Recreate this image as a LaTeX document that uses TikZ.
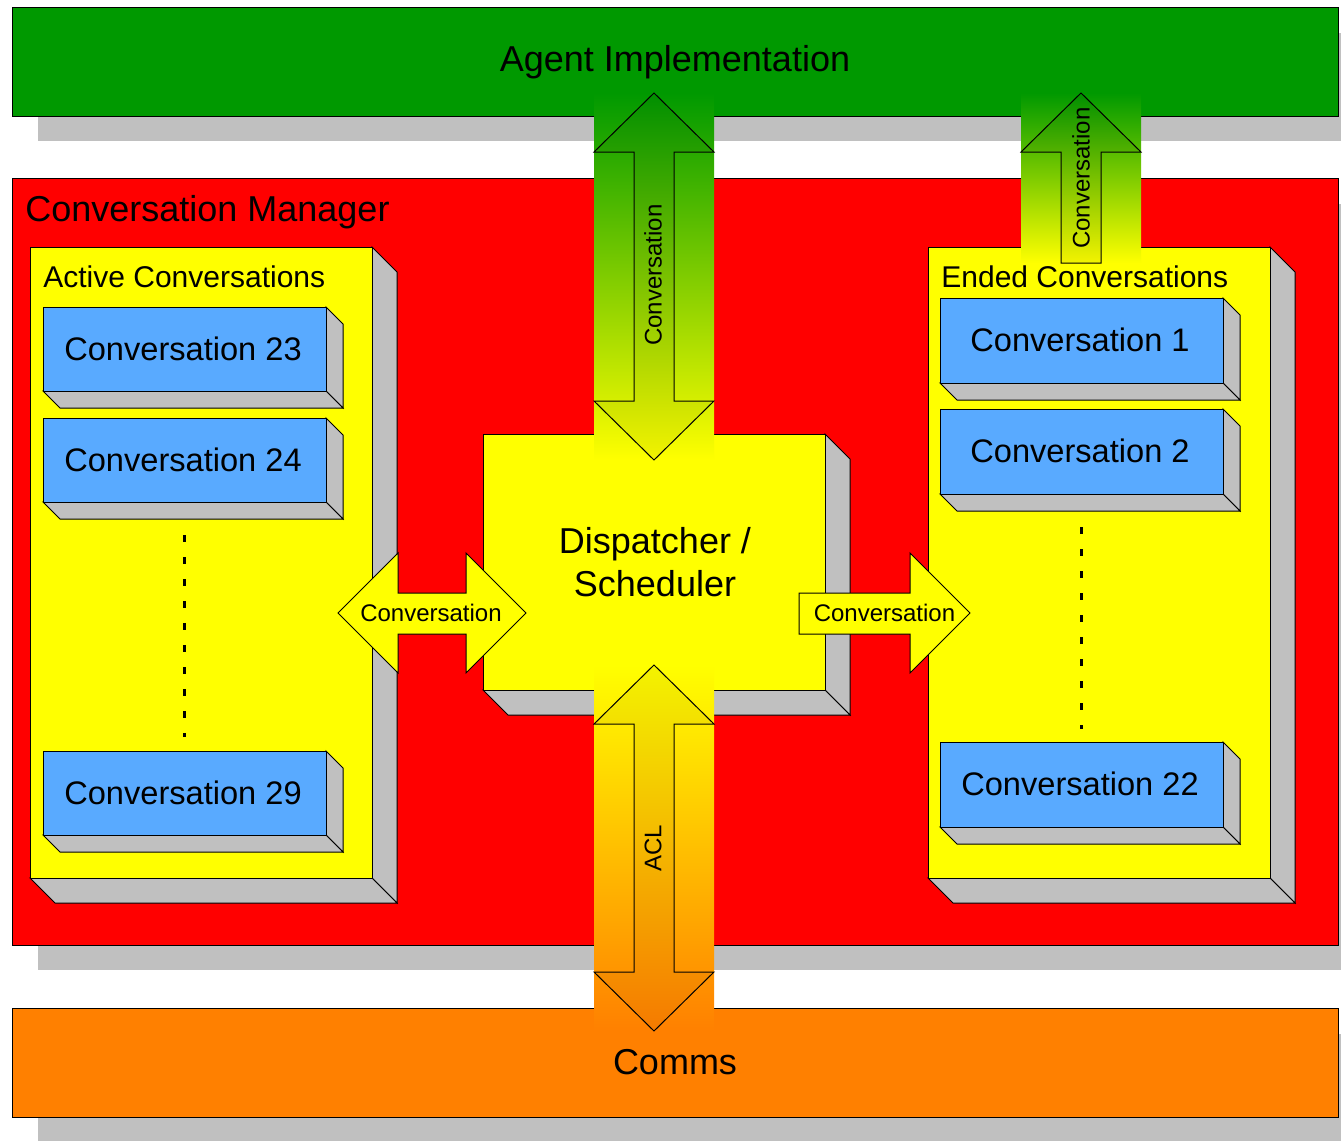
\documentclass[tikz,border=0pt]{standalone}
\usepackage{fontspec}
\setmainfont{Liberation Sans}
\definecolor{agentgreen}{RGB}{0,153,0}
\definecolor{mgrred}{RGB}{255,0,0}
\definecolor{commsorange}{RGB}{255,128,0}
\definecolor{boxyellow}{RGB}{255,255,0}
\definecolor{convblue}{RGB}{89,170,255}
\definecolor{shadowgray}{RGB}{192,192,192}
\definecolor{arrgreen}{RGB}{0,143,0}
\definecolor{arryellow}{RGB}{243,243,0}
\definecolor{arrorange}{RGB}{245,122,0}
\newcommand\tdbox[6]{%
  \filldraw[fill=shadowgray,draw=black,line width=0.5pt] (#3,#2) -- (#3+#5,#2+#5) -- (#3+#5,#4+#5) -- (#3,#4) -- cycle;
  \filldraw[fill=shadowgray,draw=black,line width=0.5pt] (#1,#4) -- (#1+#5,#4+#5) -- (#3+#5,#4+#5) -- (#3,#4) -- cycle;
  \filldraw[fill=#6,draw=black,line width=0.5pt] (#1,#2) rectangle (#3,#4);}
\tikzset{
  bigtext/.style={font=\fontsize{18}{21.5}\selectfont, inner sep=0pt},
  labeltext/.style={font=\fontsize{15}{18}\selectfont, inner sep=0pt, anchor=west},
  convtext/.style={font=\fontsize{16.3}{19}\selectfont, inner sep=0pt},
  arrtext/.style={font=\fontsize{12}{14}\selectfont, inner sep=0pt},
  outline/.style={draw=black, line width=0.5pt},
  dots/.style={line width=1.5pt, dash pattern=on 3.5pt off 7.5pt},
}
\begin{document}
\begin{tikzpicture}[x=0.5pt,y=-0.5pt]
\useasboundingbox (0,0) rectangle (1341,1141);
\fill[white] (0,0) rectangle (1341,1141);
% top bar
\fill[shadowgray] (38,33) rectangle (1341,141);
\filldraw[fill=agentgreen,outline] (12,7) rectangle (1338,116);
% manager
\fill[shadowgray] (38,204) rectangle (1341,970);
\filldraw[fill=mgrred,outline] (12,178) rectangle (1338,945);
% comms
\fill[shadowgray] (38,1034) rectangle (1341,1141);
\filldraw[fill=commsorange,outline] (12,1008) rectangle (1338,1117);
% active / ended containers
\tdbox{30}{247}{372}{878}{25}{boxyellow}
\tdbox{928}{247}{1270}{878}{25}{boxyellow}
% conversation boxes
\tdbox{43}{307}{326}{391}{17}{convblue}
\tdbox{43}{418}{326}{502}{17}{convblue}
\tdbox{43}{751}{326}{835}{17}{convblue}
\tdbox{940}{298}{1223}{383}{17}{convblue}
\tdbox{940}{409}{1223}{494}{17}{convblue}
\tdbox{940}{742}{1223}{827}{17}{convblue}
\node[convtext] (c23) at (183,349) {Conversation 23};
\node[convtext] (c24) at (183,460) {Conversation 24};
\node[convtext] (c29) at (183,793) {Conversation 29};
\node[convtext] (c1) at (1080,340) {Conversation 1};
\node[convtext] (c2) at (1080,451) {Conversation 2};
\node[convtext] (c22) at (1080,784) {Conversation 22};
% dotted lines
\coordinate (dla) at (184,535);
\coordinate (dlb) at (184,737);
\coordinate (dra) at (1081,527);
\coordinate (drb) at (1081,729);
\draw[dots] (dla) -- (dlb);
\draw[dots] (dra) -- (drb);
% dispatcher
\tdbox{483}{434}{825}{690}{25}{boxyellow}
\node[bigtext, align=center] (disp) at (655,562) {Dispatcher /\\Scheduler};
% horizontal arrows
\filldraw[fill=boxyellow,outline] (338,613) -- (398,553) -- (398,593) -- (466,593) -- (466,553) -- (526,613) -- (466,673) -- (466,634) -- (398,634) -- (398,673) -- cycle;
\node[arrtext] (la) at (431,613) {Conversation};
\filldraw[fill=boxyellow,outline] (799,593) -- (910,593) -- (910,553) -- (970,613) -- (910,673) -- (910,634) -- (799,634) -- cycle;
\node[arrtext] (ra) at (884.5,613) {Conversation};
% top double arrow
\shade[top color=agentgreen,bottom color=boxyellow] (594,93) rectangle (714,460);
\shade[top color=arrgreen,bottom color=arryellow] (654,93) -- (714,152) -- (674,152) -- (674,401) -- (714,401) -- (654,460) -- (594,401) -- (634,401) -- (634,152) -- (594,152) -- cycle;
\draw[outline] (654,93) -- (714,152) -- (674,152) -- (674,401) -- (714,401) -- (654,460) -- (594,401) -- (634,401) -- (634,152) -- (594,152) -- cycle;
\node[arrtext, rotate=90] (ta) at (653,275) {Conversation};
% top right arrow
\shade[top color=agentgreen,bottom color=boxyellow] (1021,93) rectangle (1141,263);
\shade[top color=arrgreen,bottom color=arryellow] (1081,93) -- (1141,152) -- (1101,152) -- (1101,263) -- (1061,263) -- (1061,152) -- (1021,152) -- cycle;
\draw[outline] (1081,93) -- (1141,152) -- (1101,152) -- (1101,263) -- (1061,263) -- (1061,152) -- (1021,152) -- cycle;
\node[arrtext, rotate=90] (tra) at (1081,178) {Conversation};
% bottom double arrow
\shade[top color=boxyellow,bottom color=commsorange] (594,665) rectangle (714,1031);
\shade[top color=arryellow,bottom color=arrorange] (654,665) -- (714,724) -- (674,724) -- (674,972) -- (714,972) -- (654,1031) -- (594,972) -- (634,972) -- (634,724) -- (594,724) -- cycle;
\draw[outline] (654,665) -- (714,724) -- (674,724) -- (674,972) -- (714,972) -- (654,1031) -- (594,972) -- (634,972) -- (634,724) -- (594,724) -- cycle;
\node[arrtext, rotate=90] (acl) at (653,848) {ACL};
% titles
\node[bigtext] (agent) at (675,62) {Agent Implementation};
\node[bigtext] (comms) at (675,1062) {Comms};
\node[bigtext, anchor=west] (mgr) at (25,212) {Conversation Manager};
\node[labeltext] (act) at (43,277) {Active Conversations};
\node[labeltext] (end) at (941,277) {Ended Conversations};
\end{tikzpicture}
\end{document}
